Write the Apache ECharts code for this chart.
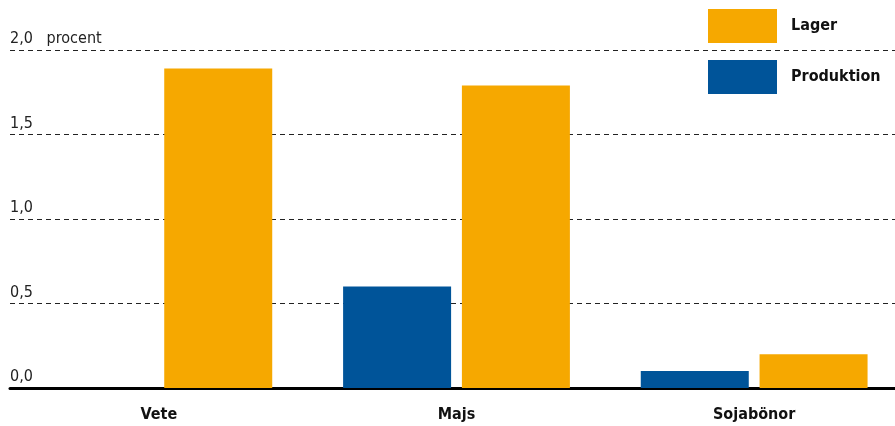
<!DOCTYPE html>
<html>
<head>
<meta charset="utf-8">
<script src="https://cdn.jsdelivr.net/npm/echarts@6/dist/echarts.min.js"></script>
<style>
  html, body { margin: 0; padding: 0; background: #fff; overflow: hidden; }
  /* the plot area runs slightly past the right edge of the window */
  #chart { width: 903px; height: 426px; }
</style>
</head>
<body>
<div id="chart"></div>
<script>
// Crops
const categories = ['Vete', 'Majs', 'Sojabönor'];
// Per cent
const produktion = [0, 0.6, 0.1];
const lager = [1.89, 1.79, 0.2];
// Y tick labels
const yTickLabels = { 0: '0,0', 0.5: '0,5', 1: '1,0', 1.5: '1,5', 2: '2,0   procent' };

const FONT = '"Liberation Sans Narrow", "DejaVu Sans Condensed", sans-serif';
const ORANGE = '#F6A800';
const BLUE = '#005499';

const chart = echarts.init(document.getElementById('chart'), null, { renderer: 'canvas' });
chart.setOption({
  animation: false,
  backgroundColor: '#fff',
  textStyle: { fontFamily: FONT },
  legend: {
    data: ['Lager', 'Produktion'],
    orient: 'vertical',
    left: 703,
    top: 4,
    itemWidth: 69,
    itemHeight: 34,
    itemGap: 17,
    icon: 'rect',
    textStyle: { fontFamily: FONT, fontWeight: 'bold', fontSize: 16, color: '#111', padding: [0, 0, 0, 9] }
  },
  grid: { left: 10, right: 0, top: 50, bottom: 38, containLabel: false },
  xAxis: {
    type: 'category',
    data: categories,
    axisLine: { show: true, onZero: false, lineStyle: { color: '#000', width: 3 } },
    axisTick: { show: false },
    axisLabel: { fontFamily: FONT, fontWeight: 'bold', fontSize: 16, color: '#111', margin: 19 }
  },
  yAxis: {
    type: 'value',
    min: 0,
    max: 2,
    interval: 0.5,
    axisLine: { show: false },
    axisTick: { show: false },
    splitLine: { show: true, lineStyle: { color: '#222', width: 1, type: [5, 4] } },
    axisLabel: {
      inside: true,
      margin: 0,
      verticalAlign: 'bottom',
      padding: [0, 0, 3, 0],
      fontFamily: FONT,
      fontSize: 16,
      color: '#222',
      formatter: v => yTickLabels[v] !== undefined ? yTickLabels[v] : ''
    }
  },
  series: [
    {
      name: 'Produktion',
      type: 'bar',
      data: produktion,
      barWidth: 108,
      barGap: '10%',
      itemStyle: { color: BLUE },
      z: 1
    },
    {
      name: 'Lager',
      type: 'bar',
      data: lager,
      barWidth: 108,
      barGap: '10%',
      itemStyle: { color: ORANGE },
      z: 1
    }
  ]
});
</script>
</body>
</html>
